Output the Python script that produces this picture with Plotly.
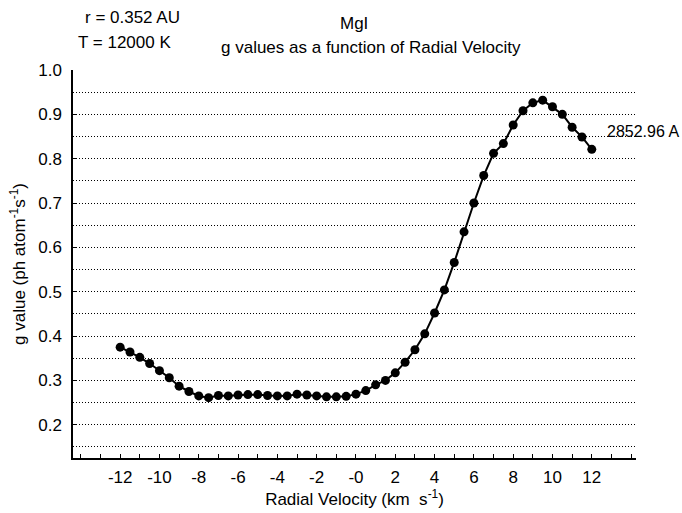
import plotly.graph_objects as go

# Radial velocity grid (km/s) and MgI g values (ph atom^-1 s^-1)
velocity = [-12.0, -11.5, -11.0, -10.5, -10.0, -9.5, -9.0, -8.5, -8.0, -7.5,
            -7.0, -6.5, -6.0, -5.5, -5.0, -4.5, -4.0, -3.5, -3.0, -2.5,
            -2.0, -1.5, -1.0, -0.5, 0.0, 0.5, 1.0, 1.5, 2.0, 2.5,
            3.0, 3.5, 4.0, 4.5, 5.0, 5.5, 6.0, 6.5, 7.0, 7.5,
            8.0, 8.5, 9.0, 9.5, 10.0, 10.5, 11.0, 11.5, 12.0]
g_value = [0.375, 0.364, 0.352, 0.338, 0.322, 0.306, 0.287, 0.275, 0.265, 0.261,
           0.266, 0.265, 0.267, 0.268, 0.268, 0.266, 0.265, 0.265, 0.269, 0.267,
           0.265, 0.263, 0.263, 0.264, 0.269, 0.277, 0.290, 0.300, 0.317, 0.341,
           0.369, 0.405, 0.452, 0.504, 0.566, 0.635, 0.700, 0.762, 0.812, 0.834,
           0.876, 0.908, 0.926, 0.932, 0.917, 0.900, 0.871, 0.849, 0.821]

x_tick_vals = [-12, -10, -8, -6, -4, -2, 0, 2, 4, 6, 8, 10, 12]
x_tick_text = ["-12", "-10", "-8", "-6", "-4", "-2", "-0", "2", "4", "6", "8", "10", "12"]
x_minor_vals = list(range(-14, 15))

line_label = "2852.96 A"
title_main = "MgI"
title_sub = "g values as a function of Radial Velocity"
info_r = "r = 0.352 AU"
info_t = "T = 12000 K"

FONT = "Liberation Sans, Arial, Helvetica, sans-serif"
FS = 17

fig = go.Figure()
fig.add_trace(go.Scatter(
    x=velocity, y=g_value, mode="lines+markers",
    line=dict(color="black", width=2),
    marker=dict(color="black", size=9),
    showlegend=False, cliponaxis=False,
))

fig.update_layout(
    width=682, height=513,
    margin=dict(l=73, r=46, t=70, b=55),
    paper_bgcolor="white", plot_bgcolor="white",
    font=dict(family=FONT, size=FS, color="black"),
    xaxis=dict(
        range=[-14.4, 14.25],
        automargin=False,
        tickvals=x_tick_vals, ticktext=x_tick_text,
        ticks="inside", ticklen=4, tickwidth=1, tickcolor="black",
        ticklabelstandoff=3,
        minor=dict(tickvals=x_minor_vals, ticks="inside", ticklen=4,
                   tickcolor="black", showgrid=False),
        showgrid=False, zeroline=False,
        showline=True, linecolor="black", linewidth=1.5,
        title=dict(text="Radial Velocity (km  s<sup>-1</sup>)",
                   font=dict(size=FS), standoff=5),
    ),
    yaxis=dict(
        range=[0.125, 1.0],
        automargin=False,
        tick0=0, dtick=0.1, tickformat=".1f",
        ticks="inside", ticklen=3, tickcolor="black",
        ticklabelstandoff=6,
        showgrid=True, gridcolor="black", gridwidth=1, griddash="1px,2px",
        minor=dict(dtick=0.05, tick0=0, showgrid=True, gridcolor="black",
                   gridwidth=1, griddash="1px,2px", ticks=""),
        zeroline=False,
        showline=True, linecolor="black", linewidth=1.5,
        title=dict(text="g value (ph atom<sup>-1</sup>s<sup>-1</sup>)",
                   font=dict(size=FS), standoff=8),
    ),
    annotations=[
        dict(text=title_main, xref="paper", yref="paper", x=(354 - 73) / 563,
             y=1.0, yshift=47, xanchor="center", yanchor="middle",
             showarrow=False, font=dict(size=FS)),
        dict(text=title_sub, xref="paper", yref="paper", x=(371 - 73) / 563,
             y=1.0, yshift=23, xanchor="center", yanchor="middle",
             showarrow=False, font=dict(size=FS)),
        dict(text=info_r, xref="paper", yref="paper", x=0.0, y=1.0,
             xshift=10, yshift=53, xanchor="left", yanchor="middle",
             showarrow=False, font=dict(size=FS)),
        dict(text=info_t, xref="paper", yref="paper", x=0.0, y=1.0,
             xshift=3, yshift=28, xanchor="left", yanchor="middle",
             showarrow=False, font=dict(size=FS)),
        dict(text=line_label, xref="x", yref="y", x=12.65, y=0.862,
             xanchor="left", yanchor="middle", showarrow=False,
             font=dict(size=16)),
    ],
)

fig.write_html("out.html")
